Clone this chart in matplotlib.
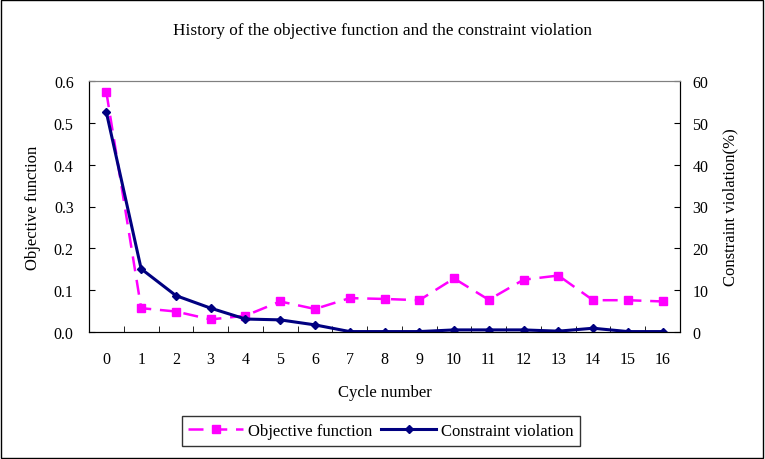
import numpy as np
import matplotlib
matplotlib.use('Agg')
import matplotlib.pyplot as plt
from matplotlib.patches import Rectangle

# Data
cycles = list(range(17))
objective = [0.573, 0.057, 0.049, 0.030, 0.039, 0.073, 0.055, 0.081, 0.079,
             0.076, 0.128, 0.077, 0.125, 0.135, 0.076, 0.076, 0.073]
violation = [52.5, 15.1, 8.7, 5.7, 3.1, 2.9, 1.7, 0.1, 0.1,
             0.1, 0.5, 0.5, 0.5, 0.2, 0.9, 0.1, 0.1]

plt.rcParams['font.family'] = ['Liberation Serif', 'DejaVu Serif']

fig = plt.figure(figsize=(7.65, 4.6), dpi=100)
ax1 = fig.add_axes([89/765, 1 - 333/460, 591/765, 251/460])

ln1, = ax1.plot(cycles, objective, color='#FF00FF', linestyle=(0, (6, 3.5)),
                linewidth=1.8, marker='s', markersize=6)
ax1.set_ylim(0, 0.6)
ax1.set_yticks(np.arange(0, 0.61, 0.1))
ax1.set_yticklabels(['%.1f' % v for v in np.arange(0, 0.61, 0.1)])
ax1.set_xlim(-0.5, 16.5)
ax1.set_xticks(cycles)
ax1.set_xticks(np.arange(-0.5, 16.6, 1), minor=True)
ax1.tick_params(axis='x', which='major', length=0, labelsize=11.5, pad=14)
ax1.tick_params(axis='x', which='minor', direction='in', length=4)
ax1.tick_params(axis='y', direction='in', length=4, labelsize=11.5, pad=11)
ax1.set_xlabel('Cycle number', fontsize=12, labelpad=12)
ax1.set_ylabel('Objective function', fontsize=12, labelpad=9)
ax1.spines['top'].set_color('#808080')

ax2 = ax1.twinx()
ln2, = ax2.plot(cycles, violation, color='#000080', linestyle='-',
                linewidth=2.2, marker='D', markersize=4)
ax2.set_ylim(0, 60)
ax2.set_yticks(np.arange(0, 61, 10))
ax2.tick_params(axis='y', direction='in', length=4, labelsize=11.5, pad=9)
ax2.set_ylabel('Constraint violation(%)', fontsize=12, labelpad=10)
ax2.spines['top'].set_color('#808080')

fig.suptitle('History of the objective function and the constraint violation',
             fontsize=12.4, y=1 - 31/460, va='center')

fig.legend([ln1, ln2], ['Objective function', 'Constraint violation'],
           loc='center', bbox_to_anchor=(381/765, 1 - 432/460), ncol=2,
           fontsize=12, frameon=True, fancybox=False, edgecolor='black',
           handlelength=3.3, handletextpad=0.3, columnspacing=0.5,
           borderpad=0.4)

fig.patches.append(Rectangle((0.001, 0.002), 0.997, 0.996, transform=fig.transFigure,
                             fill=False, edgecolor='black', linewidth=1))

fig.savefig('out.png', dpi=100)
